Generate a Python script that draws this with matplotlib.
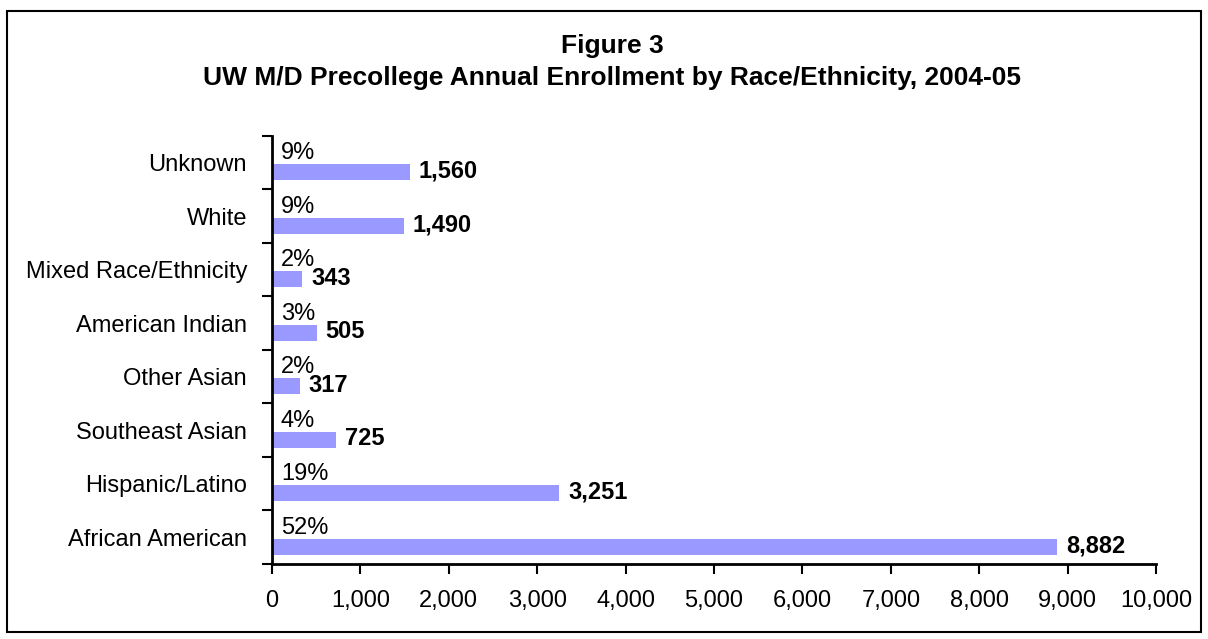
import matplotlib
matplotlib.use("Agg")
import matplotlib.pyplot as plt
from matplotlib.patches import Rectangle

plt.rcParams['font.family'] = ['Liberation Sans', 'DejaVu Sans']

# Enrollment by group, bottom to top
groups = ['African American', 'Hispanic/Latino', 'Southeast Asian', 'Other Asian',
          'American Indian', 'Mixed Race/Ethnicity', 'White', 'Unknown']
counts = [8882, 3251, 725, 317, 505, 343, 1490, 1560]
shares = ['52%', '19%', '4%', '2%', '3%', '2%', '9%', '9%']
xticks = [0, 1000, 2000, 3000, 4000, 5000, 6000, 7000, 8000, 9000, 10000]

fig = plt.figure(figsize=(12.08, 6.39), dpi=100)
ax = fig.add_axes([0.2252, 0.1174, 0.7318, 0.6698])

pos = list(range(len(groups)))
bar_y = [p - 0.18 for p in pos]
ax.barh(bar_y, counts, height=0.3, color='#9999FF', edgecolor='none')

# share above each bar, count in bold at its end
for p, c, s in zip(pos, counts, shares):
    ax.text(100, p + 0.18, s, fontsize=17, va='center', ha='left')
    ax.text(c + 100, p - 0.16, f'{c:,}', fontsize=17, fontweight='bold',
            va='center', ha='left')

ax.set_ylim(-0.5, len(groups) - 0.5)
ax.set_xlim(0, 10000)
ax.set_xticks(xticks)
ax.set_xticklabels([f'{t:,}' for t in xticks], fontsize=17)
# ticks between categories, labels centred on each band
ax.set_yticks([p + 0.5 for p in pos[:-1]] + [-0.5, len(groups) - 0.5])
ax.set_yticklabels([])
ax.set_yticks(pos, minor=True)
ax.set_yticklabels(groups, minor=True, fontsize=17)
ax.tick_params(axis='y', which='minor', length=0, pad=18)
ax.tick_params(axis='y', which='major', length=7, width=1.5, direction='out')
ax.tick_params(axis='x', length=7, width=1.5, direction='out', pad=12)

for side in ['top', 'right']:
    ax.spines[side].set_visible(False)
for side in ['left', 'bottom']:
    ax.spines[side].set_linewidth(2)

fig.text(0.507, 0.928, 'Figure 3', ha='center', va='center',
         fontsize=19, fontweight='bold')
fig.text(0.507, 0.878, 'UW M/D Precollege Annual Enrollment by Race/Ethnicity, 2004-05',
         ha='center', va='center', fontsize=19, fontweight='bold')

fig.patches.append(Rectangle((0.006, 0.011), 0.988, 0.972, transform=fig.transFigure,
                             fill=False, edgecolor='black', linewidth=1.5))

fig.savefig('out.png', dpi=100)
